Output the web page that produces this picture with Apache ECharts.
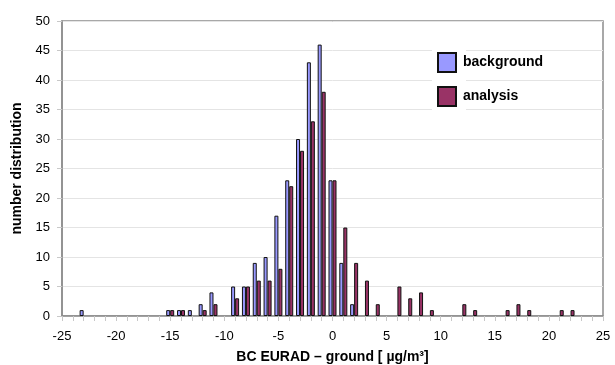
<!DOCTYPE html>
<html><head><meta charset="utf-8">
<script src="https://cdn.jsdelivr.net/npm/echarts@6/dist/echarts.min.js"></script>
<style>html,body{margin:0;padding:0;background:#fff}#c{width:615px;height:365px}</style>
</head><body><div id="c"></div>
<script>
const xValues = [-25,-24,-23,-22,-21,-20,-19,-18,-17,-16,-15,-14,-13,-12,-11,-10,-9,-8,-7,-6,-5,-4,-3,-2,-1,0,1,2,3,4,5,6,7,8,9,10,11,12,13,14,15,16,17,18,19,20,21,22,23,24,25];
const background = [0,0,1,0,0,0,0,0,0,0,1,1,1,2,4,0,5,5,9,10,17,23,30,43,46,23,9,2,0,0,0,0,0,0,0,0,0,0,0,0,0,0,0,0,0,0,0,0,0,0,0];
const analysis   = [0,0,0,0,0,0,0,0,0,0,1,1,0,1,2,0,3,5,6,6,8,22,28,33,38,23,15,9,6,2,0,5,3,4,1,0,0,2,1,0,0,1,2,1,0,0,1,1,0,0,0];
const seriesNames = ['background','analysis'];
const yTicks = {min:0,max:50,interval:5};
const xTicks = {min:-25,max:25,interval:5};

function pairs(vals){ return xValues.map((x,i)=>vals[i]>0?[x,vals[i]]:null).filter(Boolean); }

const chart = echarts.init(document.getElementById('c'), null, {renderer:'canvas'});
const font = 'Liberation Sans, Arial, sans-serif';
chart.setOption({
  animation:false,
  backgroundColor:'#fff',
  grid:{left:62,right:12,top:21,bottom:49,show:true,borderColor:'#8c8c8c',borderWidth:1.5,backgroundColor:'transparent',outerBoundsMode:'none',containLabel:false},
  xAxis:{type:'value',min:xTicks.min,max:xTicks.max,interval:xTicks.interval,
    name:'BC EURAD \u2013 ground [ \u00b5g/m\u00b3]',nameLocation:'middle',nameGap:34,
    nameTextStyle:{fontFamily:font,fontWeight:'bold',fontSize:14,color:'#000'},
    axisLine:{show:true,onZero:false,lineStyle:{color:'#8c8c8c',width:1.5}},
    axisTick:{show:true,length:5,lineStyle:{color:'#c8c8c8'}},
    minorTick:{show:true,splitNumber:5,length:5,lineStyle:{color:'#c8c8c8'}},
    splitLine:{show:false},
    axisLabel:{fontFamily:font,fontSize:13,color:'#000',margin:14}},
  yAxis:{type:'value',min:yTicks.min,max:yTicks.max,interval:yTicks.interval,
    name:'number distribution',nameLocation:'middle',nameGap:35,nameRotate:90,
    nameTextStyle:{fontFamily:font,fontWeight:'bold',fontSize:14,color:'#000'},
    axisLine:{show:true,onZero:false,lineStyle:{color:'#8c8c8c',width:1.5}},
    axisTick:{show:true,length:5,lineStyle:{color:'#c8c8c8'}},
    splitLine:{show:true,lineStyle:{color:'#e4e4e4',width:1}},
    axisLabel:{fontFamily:font,fontSize:13,color:'#000',margin:12}},
  legend:{show:true,orient:'vertical',left:432,top:47,itemWidth:18,itemHeight:19,itemGap:13,
    textStyle:{fontFamily:font,fontWeight:'bold',fontSize:14,color:'#000',padding:[0,0,0,2]},
    data:seriesNames.map(n=>({name:n,icon:'rect'}))},
  graphic:[{type:'rect',z:3,shape:{x:432,y:44,width:34,height:68},style:{fill:'#fff'}}],
  series:[
    {name:seriesNames[0],type:'bar',data:pairs(background),barWidth:4,barGap:'0%',
     itemStyle:{color:'#9999FF',borderColor:'#111',borderWidth:1}},
    {name:seriesNames[1],type:'bar',data:pairs(analysis),barWidth:4,barGap:'0%',
     itemStyle:{color:'#993366',borderColor:'#111',borderWidth:1}}
  ]
});
</script></body></html>
